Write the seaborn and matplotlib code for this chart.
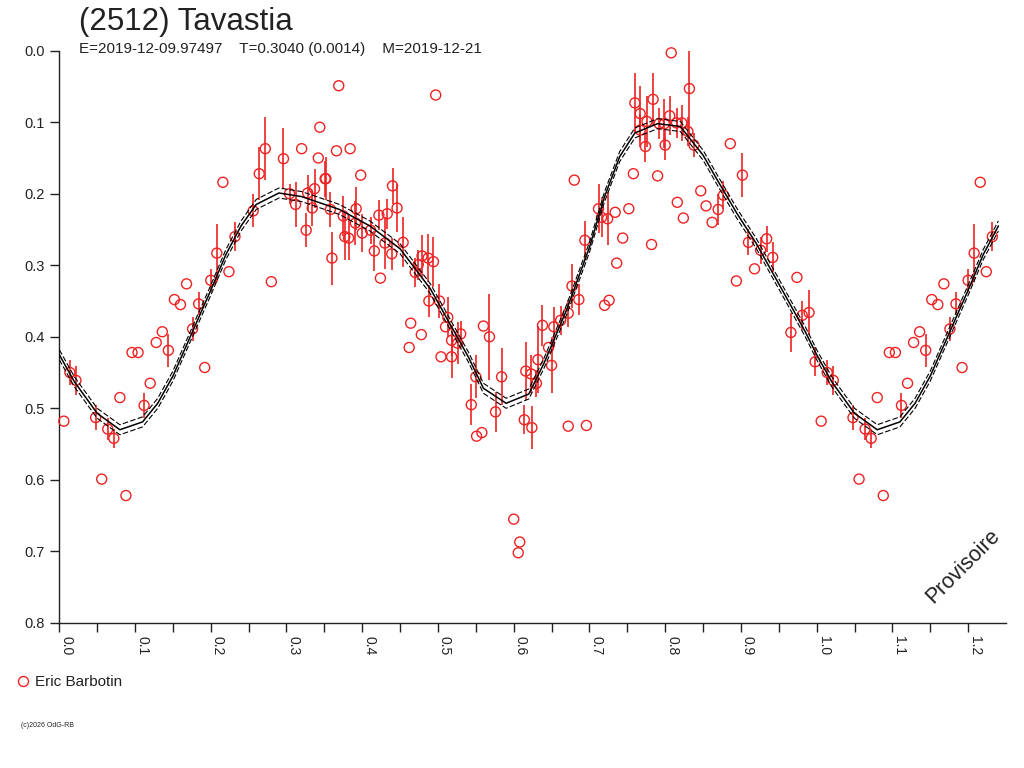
import matplotlib
matplotlib.use('Agg')
import matplotlib.pyplot as plt
from matplotlib.lines import Line2D
import numpy as np
import pandas as pd
import seaborn as sns

# measured points (phase, reduced magnitude, error; 0 = no bar drawn)
phase = [0.006, 0.014, 0.022, 0.048, 0.056, 0.064, 0.072, 0.080, 0.088, 0.096,
         0.104, 0.112, 0.120, 0.128, 0.136, 0.144, 0.152, 0.160, 0.168, 0.176,
         0.184, 0.192, 0.200, 0.208, 0.216, 0.224, 0.232, 0.256, 0.264, 0.272,
         0.280, 0.296, 0.304, 0.312, 0.320, 0.326, 0.328, 0.334, 0.337, 0.342,
         0.344, 0.351, 0.352, 0.358, 0.360, 0.366, 0.369, 0.375, 0.377, 0.382,
         0.384, 0.391, 0.392, 0.398, 0.400, 0.411, 0.416, 0.422, 0.424, 0.430,
         0.433, 0.439, 0.440, 0.446, 0.454, 0.462, 0.464, 0.470, 0.474, 0.478,
         0.479, 0.487, 0.488, 0.494, 0.497, 0.502, 0.504, 0.510, 0.513, 0.518,
         0.518, 0.526, 0.530, 0.544, 0.550, 0.551, 0.558, 0.560, 0.568, 0.576,
         0.584, 0.600, 0.606, 0.608, 0.614, 0.616, 0.623, 0.624, 0.630, 0.632,
         0.638, 0.646, 0.650, 0.653, 0.662, 0.672, 0.672, 0.677, 0.680, 0.686,
         0.694, 0.696, 0.712, 0.716, 0.720, 0.724, 0.726, 0.734, 0.736, 0.744,
         0.752, 0.758, 0.760, 0.767, 0.767, 0.774, 0.776, 0.782, 0.784, 0.790,
         0.792, 0.799, 0.800, 0.806, 0.808, 0.815, 0.816, 0.822, 0.824, 0.830,
         0.832, 0.838, 0.847, 0.854, 0.862, 0.870, 0.877, 0.886, 0.894, 0.902,
         0.910, 0.918, 0.926, 0.934, 0.942, 0.966, 0.974, 0.981, 0.990, 0.998]
mag = [0.518, 0.450, 0.461, 0.513, 0.599, 0.529, 0.542, 0.485, 0.622, 0.422,
       0.422, 0.496, 0.465, 0.408, 0.393, 0.419, 0.348, 0.355, 0.326, 0.389,
       0.354, 0.443, 0.321, 0.283, 0.184, 0.309, 0.260, 0.224, 0.172, 0.137,
       0.323, 0.151, 0.200, 0.215, 0.137, 0.251, 0.199, 0.220, 0.193, 0.150,
       0.107, 0.179, 0.179, 0.222, 0.290, 0.140, 0.049, 0.231, 0.260, 0.262,
       0.137, 0.241, 0.221, 0.174, 0.255, 0.251, 0.280, 0.230, 0.318, 0.269,
       0.228, 0.284, 0.189, 0.220, 0.268, 0.415, 0.381, 0.310, 0.299, 0.397,
       0.287, 0.290, 0.350, 0.295, 0.062, 0.350, 0.428, 0.386, 0.373, 0.405,
       0.428, 0.409, 0.396, 0.495, 0.456, 0.539, 0.534, 0.385, 0.400, 0.505,
       0.456, 0.655, 0.702, 0.687, 0.516, 0.448, 0.452, 0.527, 0.465, 0.432,
       0.384, 0.415, 0.440, 0.386, 0.377, 0.367, 0.525, 0.329, 0.181, 0.348,
       0.265, 0.524, 0.221, 0.233, 0.356, 0.235, 0.349, 0.226, 0.297, 0.262,
       0.221, 0.172, 0.073, 0.088, 0.111, 0.134, 0.099, 0.271, 0.068, 0.175,
       0.102, 0.102, 0.132, 0.091, 0.003, 0.101, 0.212, 0.101, 0.234, 0.113,
       0.053, 0.132, 0.196, 0.217, 0.240, 0.222, 0.202, 0.130, 0.322, 0.174,
       0.268, 0.305, 0.279, 0.263, 0.289, 0.394, 0.317, 0.370, 0.366, 0.435]
err = [0, 0.017, 0.020, 0.017, 0, 0.015, 0.013, 0, 0, 0,
       0, 0.017, 0, 0, 0, 0.023, 0, 0, 0, 0.017,
       0.016, 0, 0.016, 0.040, 0, 0, 0.020, 0.023, 0.037, 0.044,
       0, 0.043, 0.014, 0.031, 0, 0.024, 0.025, 0.025, 0.027, 0,
       0, 0.025, 0.030, 0.025, 0.037, 0, 0, 0.028, 0.033, 0.031,
       0, 0.031, 0.030, 0, 0.027, 0.019, 0.028, 0.021, 0, 0.036,
       0.021, 0.022, 0.025, 0.033, 0.035, 0, 0, 0.020, 0.021, 0,
       0.029, 0.034, 0.022, 0.035, 0, 0.024, 0, 0, 0.028, 0.022,
       0.030, 0.029, 0.018, 0.029, 0.030, 0, 0, 0, 0.060, 0.028,
       0.040, 0, 0, 0, 0.020, 0.041, 0.026, 0.030, 0.019, 0.047,
       0.029, 0, 0.039, 0.028, 0.020, 0.019, 0, 0.031, 0, 0.022,
       0.027, 0, 0.034, 0.028, 0, 0.037, 0, 0, 0, 0,
       0, 0, 0.042, 0.038, 0.023, 0.021, 0.035, 0, 0.037, 0,
       0.022, 0.034, 0.021, 0.027, 0, 0.021, 0, 0.025, 0, 0.020,
       0.070, 0.017, 0, 0, 0, 0.022, 0.020, 0, 0, 0.031,
       0.018, 0, 0.019, 0.018, 0.021, 0.027, 0, 0.020, 0.031, 0.020]

# fitted curve
fit_phase = [0.00, 0.02, 0.05, 0.08, 0.11, 0.13, 0.15, 0.175, 0.20, 0.22,
             0.24, 0.26, 0.29, 0.32, 0.37, 0.41, 0.45, 0.49, 0.54, 0.56,
             0.59, 0.62, 0.64, 0.67, 0.70, 0.72, 0.74, 0.76, 0.79, 0.82,
             0.85, 0.87, 0.895, 0.92, 0.96, 0.985, 1.00]
fit_mag = [0.425, 0.463, 0.507, 0.530, 0.519, 0.493, 0.455, 0.395, 0.335, 0.285,
           0.245, 0.215, 0.199, 0.204, 0.222, 0.245, 0.277, 0.333, 0.428, 0.472,
           0.493, 0.480, 0.437, 0.362, 0.275, 0.204, 0.148, 0.115, 0.102, 0.106,
           0.146, 0.183, 0.228, 0.269, 0.345, 0.393, 0.425]
fit_spread = 0.007

x_ticks = [0.0, 0.1, 0.2, 0.3, 0.4, 0.5, 0.6, 0.7, 0.8, 0.9, 1.0, 1.1, 1.2]
y_ticks = [0.0, 0.1, 0.2, 0.3, 0.4, 0.5, 0.6, 0.7, 0.8]

df = pd.DataFrame({'phase': phase, 'mag': mag, 'err': err})
df = pd.concat([df, df[df.phase < 0.25].assign(phase=lambda d: d.phase + 1)])
fit = pd.DataFrame({'phase': fit_phase, 'mag': fit_mag})
fit = pd.concat([fit, fit[fit.phase <= 0.25].assign(phase=lambda d: d.phase + 1)])
fit = fit.drop_duplicates('phase').sort_values('phase')

sns.set_style('white')
plt.rcParams['font.family'] = ['Liberation Sans', 'DejaVu Sans']
red = '#ee2222'
txt = '#222222'

fig = plt.figure(figsize=(10.24, 7.68), dpi=100)
ax = fig.add_axes([0.0579, 0.189, 0.9245, 0.745])

eb = df[df.err > 0]
ax.vlines(eb.phase, eb.mag - eb.err, eb.mag + eb.err, color=red, lw=1.2, zorder=2)
sns.scatterplot(data=df, x='phase', y='mag', ax=ax, marker='o', s=52,
                facecolor='none', edgecolor=red, linewidth=1.0, zorder=3,
                legend=False, clip_on=False)
sns.lineplot(data=fit, x='phase', y='mag', ax=ax, color='black', lw=1.1,
             sort=False, zorder=4, legend=False)
ax.plot(fit.phase, fit.mag - fit_spread, color='black', lw=0.8, ls=(0, (5, 2)), zorder=4)
ax.plot(fit.phase, fit.mag + fit_spread, color='black', lw=0.8, ls=(0, (5, 2)), zorder=4)

ax.set_xlim(0, 1.25)
ax.set_ylim(0.8, 0)
ax.set_xticks(x_ticks)
ax.set_xticks(np.arange(0.05, 1.25, 0.1), minor=True)
ax.set_xticklabels(['{:.1f}'.format(t) for t in x_ticks], rotation=270,
                   ha='left', va='top', fontsize=10, color=txt)
ax.set_yticks(y_ticks)
ax.set_yticklabels(['{:.1f}'.format(t) for t in y_ticks], fontsize=10.5, color=txt)
ax.tick_params(axis='both', which='both', direction='out', length=6.5, width=1,
               color=txt, bottom=True, left=True)
ax.tick_params(axis='x', which='major', pad=3)
ax.tick_params(axis='y', pad=4)
ax.set_xlabel('')
ax.set_ylabel('')
for side in ['top', 'right']:
    ax.spines[side].set_visible(False)
for side in ['left', 'bottom']:
    ax.spines[side].set_color(txt)
    ax.spines[side].set_linewidth(1)

fig.text(79 / 1024, 1 - 30 / 768, '(2512) Tavastia', fontsize=22.5, color=txt)
fig.text(79 / 1024, 1 - 53 / 768,
         'E=2019-12-09.97497    T=0.3040 (0.0014)    M=2019-12-21',
         fontsize=11, color=txt)
ax.text(0.955, 0.098, 'Provisoire', transform=ax.transAxes, rotation=45,
        ha='center', va='center', fontsize=15.5, color=txt)

h = Line2D([], [], ls='none', marker='o', markersize=7.2, markerfacecolor='none',
           markeredgecolor=red, markeredgewidth=1.0)
fig.legend([h], ['Eric Barbotin'], loc='center left',
           bbox_to_anchor=(0.0, 1 - 682 / 768), frameon=False,
           fontsize=11, handletextpad=0.2, handlelength=1.2,
           labelcolor=txt)
fig.text(21 / 1024, 1 - 727 / 768, '(c)2026 OdG-RB', fontsize=5, color=txt)

fig.savefig('out.png', dpi=100, facecolor='white')
